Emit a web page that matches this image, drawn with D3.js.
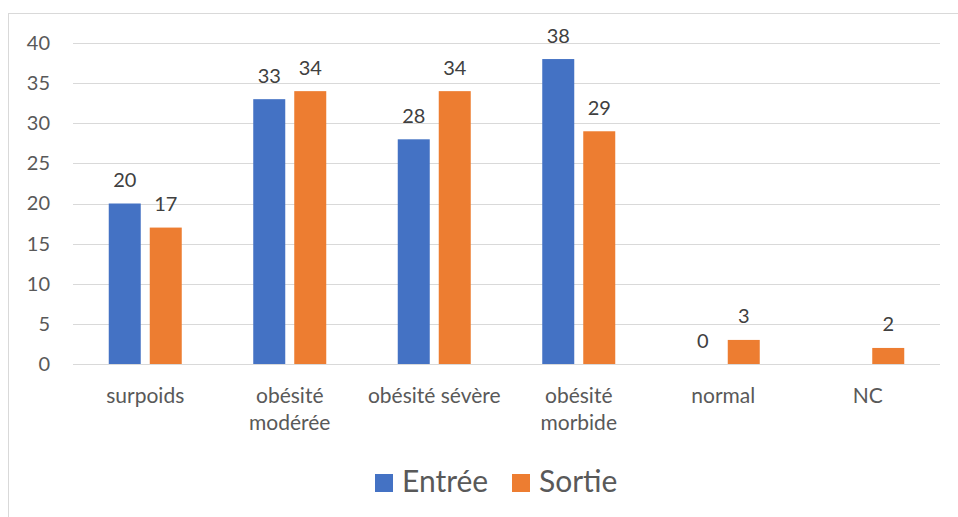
<!DOCTYPE html>
<html><head><meta charset="utf-8">
<script src="https://cdn.jsdelivr.net/npm/d3@7"></script>
<style>body{margin:0;background:#fff}svg{display:block}text{font-family:Lato,"Open Sans",sans-serif}</style>
</head><body><svg id="c" width="958" height="517"></svg>
<script>
const categories = [["surpoids"],["obésité","modérée"],["obésité sévère"],["obésité","morbide"],["normal"],["NC"]];
const seriesNames = ["Entrée","Sortie"];
const entree = [20,33,28,38,0,null];
const sortie = [17,34,34,29,3,2];
const yTicks = [0,5,10,15,20,25,30,35,40];
const colors = ["#4472C4","#ED7D31"];

const svg = d3.select("#c");
svg.append("rect").attr("x",8.5).attr("y",13.5).attr("width",960).attr("height",520)
  .attr("fill","#fff").attr("stroke","#d9d9d9").attr("stroke-width",1);

const keys = categories.map((c,i)=>"c"+i);
const x = d3.scaleBand().domain(keys).range([73,940]);
const xs = d3.scaleBand().domain(seriesNames).range([0,x.bandwidth()]).paddingInner(0.2195).paddingOuter(0.872);
const y = d3.scaleLinear().domain([0,40]).range([364,43]);

const grid = svg.append("g");
grid.selectAll("line").data(yTicks).join("line")
  .attr("x1",73).attr("x2",940).attr("y1",d=>Math.round(y(d))+0.5).attr("y2",d=>Math.round(y(d))+0.5)
  .attr("stroke","#d9d9d9").attr("stroke-width",1);

const yAxis = d3.axisLeft(y).tickValues(yTicks).tickSize(0).tickPadding(0);
const ya = svg.append("g").attr("transform","translate(50,0)").call(yAxis);
ya.select(".domain").remove();
ya.selectAll("text").attr("font-size",20).attr("fill","#595959").attr("font-family","Lato,sans-serif");

const series = [entree, sortie];
series.forEach((vals,si)=>{
  const g = svg.append("g");
  const data = vals.map((v,i)=>({v,k:keys[i]})).filter(d=>d.v!==null);
  g.selectAll("rect").data(data).join("rect")
    .attr("x",d=>x(d.k)+xs(seriesNames[si])).attr("width",xs.bandwidth())
    .attr("y",d=>y(d.v)).attr("height",d=>y(0)-y(d.v)).attr("fill",colors[si]);
  g.selectAll("text").data(data).join("text")
    .attr("x",d=>x(d.k)+xs(seriesNames[si])+xs.bandwidth()/2)
    .attr("y",d=>y(d.v)-16.5)
    .attr("text-anchor","middle").attr("font-size",20).attr("fill","#404040").text(d=>d.v);
});

const xl = svg.append("g");
categories.forEach((lines,i)=>{
  const t = xl.append("text").attr("x",x(keys[i])+x.bandwidth()/2).attr("y",403)
    .attr("text-anchor","middle").attr("font-size",21).attr("fill","#595959");
  lines.forEach((l,j)=>t.append("tspan").attr("x",x(keys[i])+x.bandwidth()/2).attr("dy",j?27:0).text(l));
});

const leg = svg.append("g");
const legX = [375,512];
seriesNames.forEach((n,i)=>{
  leg.append("rect").attr("x",legX[i]).attr("y",474).attr("width",18).attr("height",18).attr("fill",colors[i]);
  leg.append("text").attr("x",legX[i]+27).attr("y",492).attr("font-size",30).attr("fill","#595959").text(n);
});
</script></body></html>
